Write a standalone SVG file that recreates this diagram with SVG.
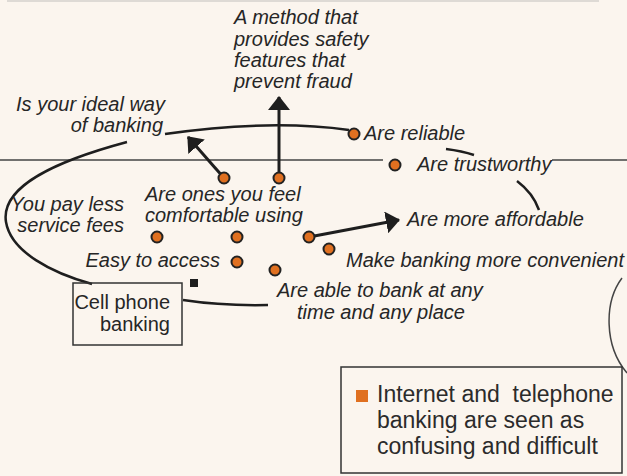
<svg xmlns="http://www.w3.org/2000/svg" width="627" height="476" viewBox="0 0 627 476">
<style>
.lbl{font-family:"Liberation Sans",Arial,sans-serif;font-size:20px;font-style:italic;fill:#262626}
.txt{font-family:"Liberation Sans",Arial,sans-serif;font-size:20px;fill:#262626}
.big{font-family:"Liberation Sans",Arial,sans-serif;font-size:23px;fill:#2b2b2b}
.dot{fill:#E07020;stroke:#222;stroke-width:2}
.ln{fill:none;stroke:#1e1e1e;stroke-width:2.5}
.arr{fill:none;stroke:#1e1e1e;stroke-width:3}
.box{fill:none;stroke:#333;stroke-width:1.5}
.thin{fill:none;stroke:#444;stroke-width:1.5}
</style>
<defs>
<marker id="ah" viewBox="0 0 14 22" refX="13" refY="11" markerWidth="14" markerHeight="22" markerUnits="userSpaceOnUse" orient="auto">
<path d="M0,0 L14,11 L0,22 z" fill="#1e1e1e"/>
</marker>
</defs>
<rect width="627" height="476" fill="#FBF5EE"/>
<path d="M7,1 H599" stroke="#dedad5" stroke-width="2" fill="none"/>
<g id="connectors">
<path class="thin" d="M0,160 H383 M552,160 H627"/>
<path class="ln" d="M165,134 Q270,119 349,130"/>
<path class="ln" d="M127,142 C60,160 0,185 6,222 C11,252 52,273 92,284"/>
<path class="ln" d="M183,300 Q222,306 268,305"/>
<path class="ln" d="M446,149 Q462,151 474,155"/>
<path class="ln" d="M517,181 Q533,193 539,210"/>
<path class="thin" d="M622,278 C604,302 604,346 627,373"/>
<path class="arr" d="M279,178 V97" marker-end="url(#ah)"/>
<path class="arr" d="M224,178 L188,137" marker-end="url(#ah)"/>
<path class="arr" d="M309,237 L399,220" marker-end="url(#ah)"/>
</g>
<g id="n-fraud"><text class="lbl" x="234" y="24">A method that</text><text class="lbl" x="234" y="46">provides safety</text><text class="lbl" x="234" y="67">features that</text><text class="lbl" x="234" y="88">prevent fraud</text></g>
<g id="n-ideal"><text class="lbl" x="165" y="111" text-anchor="end">Is your ideal way</text><text class="lbl" x="163" y="132" text-anchor="end">of banking</text></g>
<g id="n-reliable"><circle class="dot" cx="354" cy="134" r="5.5"/><text class="lbl" x="364" y="140">Are reliable</text></g>
<g id="n-trust"><circle class="dot" cx="395" cy="165" r="5.5"/><text class="lbl" x="417" y="171">Are trustworthy</text></g>
<g id="n-comfortable"><circle class="dot" cx="224" cy="178" r="5.5"/><circle class="dot" cx="279" cy="178" r="5.5"/><text class="lbl" x="145" y="201">Are ones you feel</text><text class="lbl" x="145" y="222">comfortable using</text></g>
<g id="n-fees"><text class="lbl" x="124" y="211" text-anchor="end">You pay less</text><text class="lbl" x="124" y="232" text-anchor="end">service fees</text></g>
<g id="n-dots"><circle class="dot" cx="157" cy="237" r="5.5"/><circle class="dot" cx="237" cy="237" r="5.5"/><circle class="dot" cx="309" cy="237" r="5.5"/></g>
<g id="n-affordable"><text class="lbl" x="407" y="226">Are more affordable</text></g>
<g id="n-convenient"><circle class="dot" cx="329" cy="249" r="5.5"/><text class="lbl" x="346" y="267">Make banking more convenient</text></g>
<g id="n-access"><circle class="dot" cx="237" cy="262" r="5.5"/><text class="lbl" x="220" y="267" text-anchor="end">Easy to access</text></g>
<g id="n-anytime"><circle class="dot" cx="275" cy="270" r="5.5"/><text class="lbl" x="277" y="297">Are able to bank at any</text><text class="lbl" x="297" y="319">time and any place</text></g>
<g id="n-marker"><rect x="190" y="279" width="8" height="8" fill="#1e1e1e"/></g>
<g id="n-cell"><rect class="box" x="73" y="283" width="109" height="62"/><text class="txt" x="170" y="309" text-anchor="end">Cell phone</text><text class="txt" x="170" y="331" text-anchor="end">banking</text></g>
<g id="n-internet"><rect class="box" x="341" y="367" width="281" height="106"/><rect x="356" y="390" width="12" height="12" fill="#E07020"/><text class="big" x="377" y="402" xml:space="preserve">Internet and  telephone</text><text class="big" x="377" y="428">banking are seen as</text><text class="big" x="377" y="454">confusing and difficult</text></g>
</svg>
